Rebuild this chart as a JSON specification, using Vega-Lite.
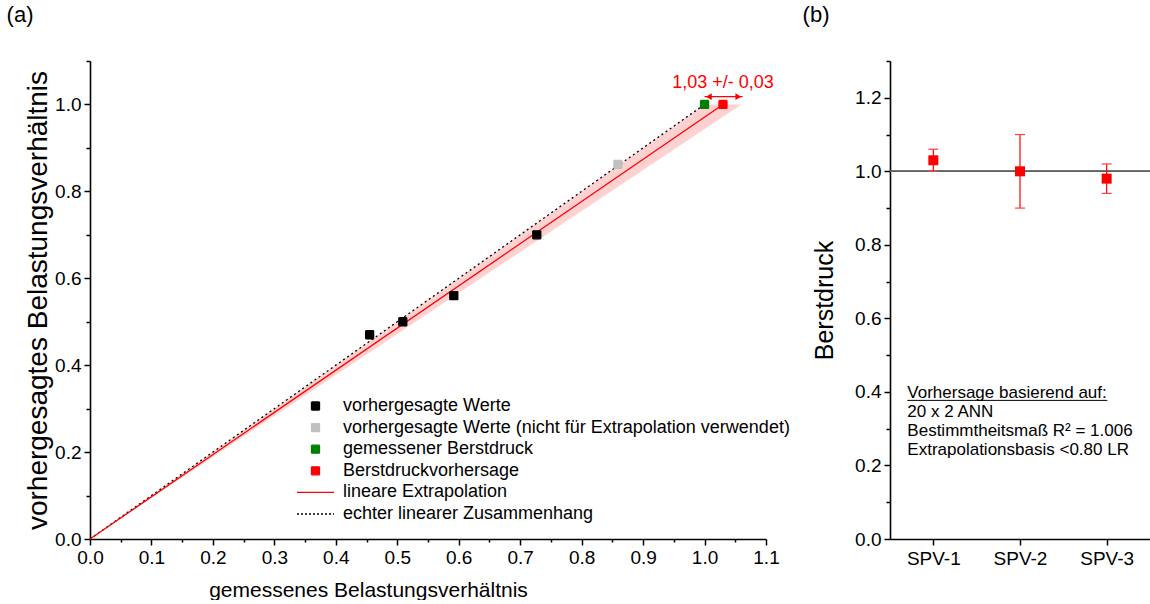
{
  "$schema": "https://vega.github.io/schema/vega-lite/v6.json",
  "padding": {"left": 6, "top": 4, "right": 0, "bottom": 0},
  "background": "white",
  "config": {
    "font": "Liberation Sans",
    "view": {"stroke": null},
    "axis": {"grid": false, "domainColor": "black", "domainWidth": 1.6, "tickColor": "black", "tickWidth": 1.5, "labelFont": "Liberation Sans", "labelColor": "black", "labelFontSize": 19, "titleFont": "Liberation Sans", "titleFontWeight": "normal", "titleColor": "black", "labelPadding": 3},
    "legend": {"title": null, "orient": "none", "legendX": 206, "legendY": 336, "padding": 0,
      "labelFont": "Liberation Sans", "labelFontSize": 18, "labelLimit": 0, "labelOffset": 8,
      "rowPadding": 3.6, "clipHeight": 18, "symbolStrokeWidth": 1.3, "symbolOpacity": 1},
    "title": {"font": "Liberation Sans", "fontSize": 22, "fontWeight": "normal", "anchor": "start", "frame": "bounds", "color": "black"}
  },
  "datasets": {
    "pts": [
      {"x": 0.455, "y": 0.47, "series": "vorhergesagte Werte"},
      {"x": 0.509, "y": 0.50, "series": "vorhergesagte Werte"},
      {"x": 0.592, "y": 0.56, "series": "vorhergesagte Werte"},
      {"x": 0.727, "y": 0.70, "series": "vorhergesagte Werte"},
      {"x": 0.859, "y": 0.862, "series": "vorhergesagte Werte (nicht für Extrapolation verwendet)"},
      {"x": 1.0, "y": 1.0, "series": "gemessener Berstdruck"},
      {"x": 1.03, "y": 1.0, "series": "Berstdruckvorhersage"}
    ],
    "ident": [{"x": 0, "y": 0}, {"x": 1.0, "y": 1.0}],
    "extrap": [{"x": 0, "y": 0}, {"x": 1.03, "y": 1.0}],
    "band": [{"y": 0, "lo": 0, "hi": 0}, {"y": 1.0, "lo": 1.0, "hi": 1.06}],
    "arrow": [{"x": 1.0, "x2": 1.062, "y": 1.018}],
    "head_l": [{"x": 1.007, "y": 1.018}],
    "head_r": [{"x": 1.055, "y": 1.018}],
    "note_a": [{"x": 1.03, "y": 1.037, "label": "1,03 +/- 0,03"}],
    "spv": [
      {"name": "SPV-1", "value": 1.03, "low": 1.0, "high": 1.06},
      {"name": "SPV-2", "value": 1.0, "low": 0.9, "high": 1.1},
      {"name": "SPV-3", "value": 0.98, "low": 0.94, "high": 1.02}
    ],
    "note_b": [{"text": ["Vorhersage basierend auf:", "20 x 2 ANN", "Bestimmtheitsmaß R² = 1.006", "Extrapolationsbasis <0.80 LR"]}]
  },
  "resolve": {"scale": {"color": "independent", "fill": "independent", "stroke": "independent", "size": "independent", "strokeDash": "independent", "x": "independent", "y": "independent", "shape": "independent"}, "legend": {"color": "independent", "fill": "independent", "stroke": "independent", "size": "independent", "strokeDash": "independent", "shape": "independent"}},
  "spacing": 12,
  "hconcat": [
    {
      "title": {"text": "(a)", "dx": -18, "offset": 33},
      "width": 676,
      "height": 478,
      "encoding": {
        "x": {"type": "quantitative", "scale": {"domain": [0, 1.1], "nice": false, "zero": false},
          "axis": {"title": "gemessenes Belastungsverhältnis", "titleFontSize": 21, "titlePadding": 12, "titleX": 278, "titleAlign": "center",
            "values": [0, 0.05, 0.1, 0.15, 0.2, 0.25, 0.3, 0.35, 0.4, 0.45, 0.5, 0.55, 0.6, 0.65, 0.7, 0.75, 0.8, 0.85, 0.9, 0.95, 1.0, 1.05, 1.1],
            "labelExpr": "abs(datum.value*10 - round(datum.value*10)) < 0.01 ? format(datum.value, '.1f') : ''",
            "tickSize": {"condition": {"test": "abs(datum.value*10 - round(datum.value*10)) > 0.01", "value": 3}, "value": 6},
            "labelFlush": false}},
        "y": {"type": "quantitative", "scale": {"domain": [0, 1.1], "nice": false, "zero": false},
          "axis": {"title": "vorhergesagtes Belastungsverhältnis", "titleFontSize": 28, "titlePadding": 2,
            "values": [0, 0.1, 0.2, 0.3, 0.4, 0.5, 0.6, 0.7, 0.8, 0.9, 1.0, 1.1],
            "labelExpr": "round(datum.value*10) % 2 === 0 ? format(datum.value, '.1f') : ''",
            "tickSize": {"condition": {"test": "round(datum.value*10) % 2 === 1", "value": 4}, "value": 6},
            "labelFlush": false}}
      },
      "layer": [
        {
          "data": {"name": "band"},
          "mark": {"type": "area", "orient": "horizontal", "color": "#ff0000", "opacity": 0.18},
          "encoding": {"y": {"field": "y"}, "x": {"field": "lo"}, "x2": {"field": "hi"}}
        },
        {
          "data": {"name": "ident"},
          "mark": {"type": "line", "color": "black", "strokeWidth": 1.3, "strokeDash": [2, 3]},
          "encoding": {"x": {"field": "x"}, "y": {"field": "y"}}
        },
        {
          "data": {"name": "extrap"},
          "mark": {"type": "line", "color": "#ff0000", "strokeWidth": 1.3},
          "encoding": {"x": {"field": "x"}, "y": {"field": "y"}}
        },
        {
          "mark": {"type": "rule", "color": "black", "strokeWidth": 1},
          "encoding": {"y": {"datum": 1.0}}
        },
        {
          "mark": {"type": "rule", "color": "black", "strokeWidth": 1.2, "strokeDash": [3, 3]},
          "encoding": {"x": {"datum": 1.0}, "y": {"datum": 0}, "y2": {"datum": 1.0}}
        },
        {
          "data": {"name": "pts"},
          "mark": {"type": "point", "opacity": 1, "strokeWidth": 1.3},
          "encoding": {
            "x": {"field": "x"}, "y": {"field": "y"},
            "fill": {"field": "series", "type": "nominal",
              "scale": {"domain": ["vorhergesagte Werte", "vorhergesagte Werte (nicht für Extrapolation verwendet)", "gemessener Berstdruck", "Berstdruckvorhersage", "lineare Extrapolation", "echter linearer Zusammenhang"],
                "range": ["#000000", "#c0c0c0", "#008000", "#ff0000", "#ff0000", "#000000"]},
              "legend": {
                "encode": {
                  "labels": {
                    "fill": {"condition": [
                      {"test": "datum.value === 'vorhergesagte Werte (nicht für Extrapolation verwendet)'", "value": "#c0c0c0"},
                      {"test": "datum.value === 'gemessener Berstdruck'", "value": "#008000"},
                      {"test": "datum.value === 'Berstdruckvorhersage' || datum.value === 'lineare Extrapolation'", "value": "#ff0000"}
                    ], "value": "#000000"}
                  }
                }
              }},
            "stroke": {"field": "series", "type": "nominal",
              "scale": {"domain": ["vorhergesagte Werte", "vorhergesagte Werte (nicht für Extrapolation verwendet)", "gemessener Berstdruck", "Berstdruckvorhersage", "lineare Extrapolation", "echter linearer Zusammenhang"],
                "range": ["#000000", "#c0c0c0", "#008000", "#ff0000", "#ff0000", "#000000"]}},
            "shape": {"field": "series", "type": "nominal",
              "scale": {"domain": ["vorhergesagte Werte", "vorhergesagte Werte (nicht für Extrapolation verwendet)", "gemessener Berstdruck", "Berstdruckvorhersage", "lineare Extrapolation", "echter linearer Zusammenhang"],
                "range": ["square", "square", "square", "square", "stroke", "stroke"]}},
            "size": {"field": "series", "type": "nominal",
              "scale": {"type": "ordinal", "domain": ["vorhergesagte Werte", "vorhergesagte Werte (nicht für Extrapolation verwendet)", "gemessener Berstdruck", "Berstdruckvorhersage", "lineare Extrapolation", "echter linearer Zusammenhang"],
                "range": [64, 64, 64, 64, 1369, 1369]}},
            "strokeDash": {"field": "series", "type": "nominal",
              "scale": {"domain": ["vorhergesagte Werte", "vorhergesagte Werte (nicht für Extrapolation verwendet)", "gemessener Berstdruck", "Berstdruckvorhersage", "lineare Extrapolation", "echter linearer Zusammenhang"],
                "range": [[1, 0], [1, 0], [1, 0], [1, 0], [1, 0], [2, 2]]}}
          }
        },
        {
          "data": {"name": "arrow"},
          "mark": {"type": "rule", "color": "#ff0000", "strokeWidth": 1.3},
          "encoding": {"x": {"field": "x"}, "x2": {"field": "x2"}, "y": {"field": "y"}}
        },
        {
          "data": {"name": "head_l"},
          "mark": {"type": "point", "shape": "triangle-left", "filled": true, "opacity": 1, "size": 45, "color": "#ff0000"},
          "encoding": {"x": {"field": "x"}, "y": {"field": "y"}}
        },
        {
          "data": {"name": "head_r"},
          "mark": {"type": "point", "shape": "triangle-right", "filled": true, "opacity": 1, "size": 45, "color": "#ff0000"},
          "encoding": {"x": {"field": "x"}, "y": {"field": "y"}}
        },
        {
          "data": {"name": "note_a"},
          "mark": {"type": "text", "color": "#ff0000", "fontSize": 18, "align": "center", "baseline": "alphabetic", "font": "Liberation Sans"},
          "encoding": {"x": {"field": "x"}, "y": {"field": "y"}, "text": {"field": "label"}}
        }
      ]
    },
    {
      "title": {"text": "(b)", "dx": -10, "offset": 33},
      "width": 260,
      "height": 478,
      "data": {"name": "spv"},
      "encoding": {
        "x": {"field": "name", "type": "ordinal", "scale": {"type": "point", "padding": 0.5},
          "axis": {"title": null, "labelAngle": 0, "tickSize": 6, "labelPadding": 4}},
        "y": {"type": "quantitative", "scale": {"domain": [0, 1.3], "nice": false, "zero": false},
          "axis": {"title": "Berstdruck", "titleFontSize": 25, "titlePadding": 17,
            "values": [0, 0.1, 0.2, 0.3, 0.4, 0.5, 0.6, 0.7, 0.8, 0.9, 1.0, 1.1, 1.2, 1.3],
            "labelExpr": "round(datum.value*10) % 2 === 0 ? format(datum.value, '.1f') : ''",
            "tickSize": {"condition": {"test": "round(datum.value*10) % 2 === 1", "value": 4}, "value": 6},
            "labelFlush": false}}
      },
      "layer": [
        {
          "mark": {"type": "rule", "color": "#606060", "strokeWidth": 1.4},
          "encoding": {"x": null, "y": {"datum": 1.0}}
        },
        {
          "mark": {"type": "rule", "color": "#ff0000", "strokeWidth": 1.2},
          "encoding": {"y": {"field": "low"}, "y2": {"field": "high"}}
        },
        {
          "mark": {"type": "tick", "color": "#ff4040", "thickness": 1.2, "size": 10, "opacity": 1},
          "encoding": {"y": {"field": "high"}}
        },
        {
          "mark": {"type": "tick", "color": "#ff4040", "thickness": 1.2, "size": 10, "opacity": 1},
          "encoding": {"y": {"field": "low"}}
        },
        {
          "mark": {"type": "point", "shape": "square", "filled": true, "opacity": 1, "size": 100, "color": "#ff0000"},
          "encoding": {"y": {"field": "value"}}
        },
        {
          "data": {"name": "note_b"},
          "mark": {"type": "text", "fontSize": 17, "align": "left", "baseline": "alphabetic", "lineHeight": 19, "dx": -26, "color": "black", "font": "Liberation Sans"},
          "encoding": {"x": {"datum": "SPV-1"}, "y": {"datum": 0.384}, "text": {"field": "text"}}
        },
        {
          "data": {"name": "note_b"},
          "mark": {"type": "rule", "color": "black", "strokeWidth": 1, "xOffset": -26, "x2Offset": 174},
          "encoding": {"x": {"datum": "SPV-1"}, "x2": {"datum": "SPV-1"}, "y": {"datum": 0.377}}
        }
      ]
    }
  ]
}
